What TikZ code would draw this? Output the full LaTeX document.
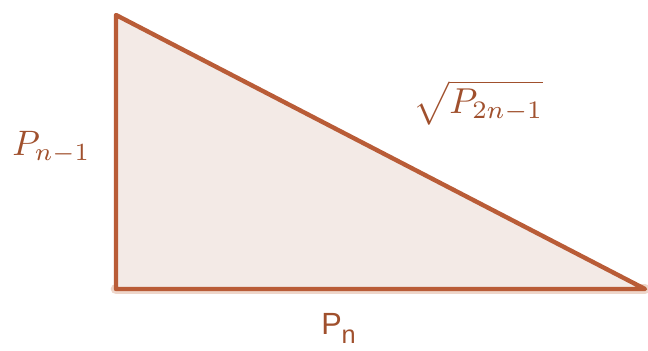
\documentclass[tikz,border=0pt]{standalone}
\usepackage{fontspec}
\setsansfont{Liberation Sans}
\definecolor{lado}{RGB}{185,92,55}
\definecolor{area}{RGB}{243,234,230}
\definecolor{rotulo}{RGB}{160,80,45}
\definecolor{sombra}{RGB}{238,214,202}
\begin{document}
\begin{tikzpicture}[x=0.75pt, y=-0.75pt,
    lado/.style={draw=lado, line width=3.3pt, line join=round},
    rotulo/.style={text=rotulo, inner sep=0pt}]
\useasboundingbox (0,0) rectangle (648,350);
% Vértices do triângulo
\coordinate (A) at (116,15);
\coordinate (B) at (116,289);
\coordinate (C) at (645,289);
% Sombra do cateto horizontal
\draw[sombra, line width=8pt, line cap=round] (B) -- (C);
% Triângulo retângulo
\filldraw[lado, fill=area] (A) -- (B) -- (C) -- cycle;
% Rótulos dos lados
\node[rotulo, anchor=base west] (vert) at (12,155) {\scalebox{2.65}{$P_{n-1}$}};
\node[rotulo, anchor=base west] (hip) at (413,113) {\scalebox{2.7}{$\sqrt{P_{2n-1}}$}};
\node[rotulo, anchor=base west, font=\sffamily\fontsize{23}{27}\selectfont] (horiz) at (321,334) {P\raisebox{-0.3em}{\fontsize{19}{22}\selectfont n}};
\end{tikzpicture}
\end{document}
